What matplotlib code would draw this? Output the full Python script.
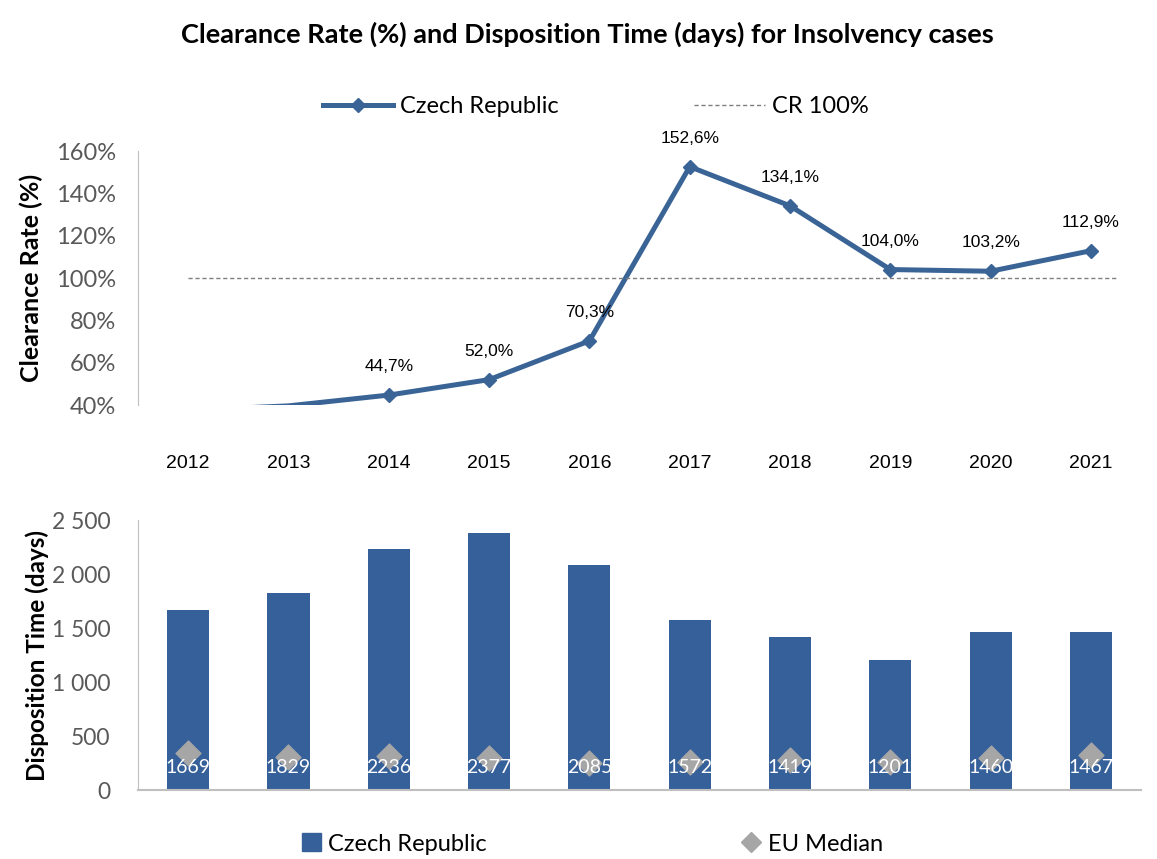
import matplotlib.pyplot as plt
import numpy as np
from matplotlib.lines import Line2D
from matplotlib.patches import Patch

years = ['2012', '2013', '2014', '2015', '2016', '2017', '2018', '2019', '2020', '2021']
clearance = [37.5, 39.6, 44.7, 52.0, 70.3, 152.6, 134.1, 104.0, 103.2, 112.9]
cr100 = [100] * 10
disposition = [1669, 1829, 2236, 2377, 2085, 1572, 1419, 1201, 1460, 1467]
eu_median = [342, 306, 315, 296, 250, 259, 278, 259, 296, 324]

blue_line = '#3a6496'
blue_bar = '#36609a'
grey = '#595959'
spine = '#bfbfbf'

fig = plt.figure(figsize=(11.57, 8.59), dpi=100)
x = np.arange(len(years))
cl = np.array(clearance)
shown = cl >= 40  # points below the axis minimum get no marker or label

# top: clearance rate
ax1 = fig.add_axes([0.1193, 0.5285, 0.867, 0.2957])
ax1.plot(x, cl, color=blue_line, lw=3.6)
ax1.plot(x[shown], cl[shown], ls='none', color=blue_line, marker='D', ms=7)
ax1.plot(x[:-1].tolist() + [9.27], cr100, color='#7f7f7f', lw=1, ls=(0, (3, 2)))
for xi, v in zip(x[shown], cl[shown]):
    ax1.annotate(f'{v:.1f}%'.replace('.', ','), (xi, v), xytext=(0, 15),
                 textcoords='offset points', ha='center', va='bottom',
                 fontsize=12.5, family='Liberation Sans')
ax1.set_xlim(-0.5, 9.5)
ax1.set_ylim(40, 160)
ax1.set_yticks(np.arange(40, 161, 20))
ax1.set_yticklabels([f'{t}%' for t in range(40, 161, 20)], fontsize=17, color=grey, family='Lato')
ax1.set_xticks(x)
ax1.set_xticklabels(years, fontsize=14, family='Liberation Sans')
ax1.tick_params(axis='x', length=0, pad=36)
ax1.tick_params(axis='y', length=0, pad=16)
for s in ['top', 'right', 'bottom']:
    ax1.spines[s].set_visible(False)
ax1.spines['left'].set_color(spine)
ax1.set_ylabel('Clearance Rate (%)', fontsize=18, fontweight='bold', family='Lato', labelpad=9)
h1 = [Line2D([], [], color=blue_line, lw=3.6, marker='D', ms=7),
      Line2D([], [], color='#7f7f7f', lw=1, ls=(0, (3, 2)))]
ax1.legend(h1, ['Czech Republic', 'CR 100%'], loc='center', bbox_to_anchor=(0.456, 1.175), ncol=2,
           frameon=False, prop={'family': 'Lato', 'size': 17}, columnspacing=5.7,
           handlelength=3, handletextpad=0.3)

# bottom: disposition time
ax2 = fig.add_axes([0.1193, 0.0803, 0.867, 0.3143])
ax2.bar(x, disposition, width=0.42, color=blue_bar)
ax2.scatter(x, eu_median, marker='D', s=160, color='#a6a6a6', zorder=3)
for xi, v in zip(x, disposition):
    ax2.text(xi, 212, str(v), ha='center', va='center', color='white', fontsize=14, family='Lato', zorder=4)
ax2.set_xlim(-0.5, 9.5)
ax2.set_ylim(0, 2500)
ax2.set_yticks(np.arange(0, 2501, 500))
ax2.set_yticklabels([f'{t:,}'.replace(',', ' ') for t in range(0, 2501, 500)],
                    fontsize=16.5, color=grey, family='Lato')
ax2.set_xticks([])
ax2.tick_params(axis='y', length=0, pad=20)
for s in ['top', 'right']:
    ax2.spines[s].set_visible(False)
ax2.spines['left'].set_color(spine)
ax2.spines['bottom'].set_color(spine)
ax2.spines['bottom'].set_linewidth(1.5)
ax2.set_ylabel('Disposition Time (days)', fontsize=17.5, fontweight='bold', family='Lato', labelpad=2)
h2 = [Patch(color=blue_bar),
      Line2D([], [], ls='none', marker='D', ms=10, color='#a6a6a6')]
ax2.legend(h2, ['Czech Republic', 'EU Median'], loc='center', bbox_to_anchor=(0.453, -0.2), ncol=2,
           frameon=False, prop={'family': 'Lato', 'size': 17}, columnspacing=10.8,
           handlelength=0.8, handleheight=0.8, handletextpad=0.3)

fig.suptitle('Clearance Rate (%) and Disposition Time (days) for Insolvency cases',
             x=0.508, y=0.975, fontsize=19.5, fontweight='bold', family='Lato')

fig.savefig('out.png', dpi=100)
